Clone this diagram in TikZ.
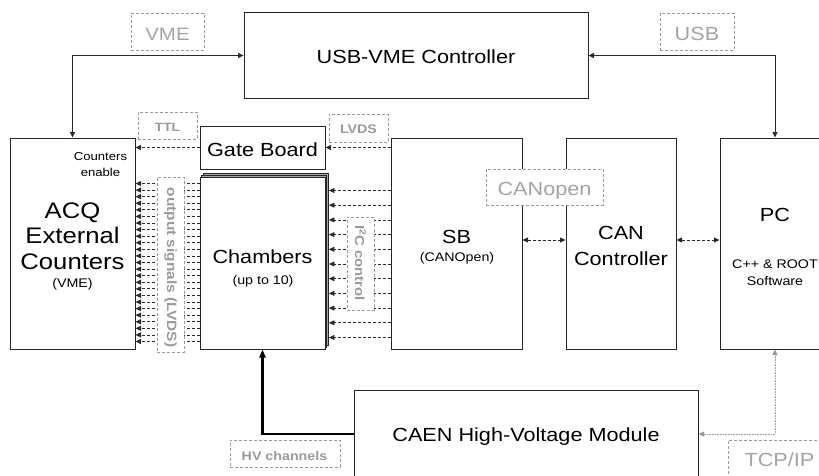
\documentclass[tikz,border=0pt]{standalone}
\usepackage{fontspec}
\setmainfont{Liberation Sans}[FakeStretch=1.14]
\usetikzlibrary{arrows.meta,calc}
\definecolor{lbl}{HTML}{9A9A9A}
\definecolor{lnk}{HTML}{2A2A2A}
\newcommand{\fsz}[1]{\fontsize{#1}{#1}\selectfont}
\begin{document}
\begin{tikzpicture}[x=1pt,y=-1pt,
  box/.style={draw=black!85,line width=1pt,fill=white,inner sep=0pt},
  shadowbox/.style={draw=black!85,line width=0.8pt,fill=gray!70,inner sep=0pt},
  lblbox/.style={draw=lbl,line width=0.9pt,dash pattern=on 3pt off 2pt,fill=white,inner sep=0pt},
  tip/.tip={Triangle[length=5.5pt,width=5pt]},
  bigtip/.tip={Triangle[length=8pt,width=6pt]},
  link/.style={draw=lnk,line width=0.9pt},
  dlink/.style={draw=lnk,line width=0.8pt,dash pattern=on 3pt off 2pt},
  dotlink/.style={draw=gray!80,line width=0.8pt,dash pattern=on 0.8pt off 0.8pt},
  hvlink/.style={draw=black,line width=2.2pt},
  main/.style={font=\fsz{19},anchor=base,inner sep=0pt},
  small/.style={font=\fsz{12.5},anchor=base,inner sep=0pt},
  glabel/.style={font=\fsz{19},text=lbl!90,anchor=base,inner sep=0pt},
  blabel/.style={font=\bfseries\fsz{12.5},text=lbl,anchor=base,inner sep=0pt},
  rlabel/.style={font=\bfseries\fsz{13.5},text=lbl,rotate=-90,inner sep=0pt}
]
\path[use as bounding box] (0,0) rectangle (819,475);

% main boxes
\node[box,minimum width=344pt,minimum height=86pt] (usbvme) at (416,55.5) {};
\node[box,minimum width=125pt,minimum height=211pt] (acq) at (72.5,243.5) {};
\node[box,minimum width=125pt,minimum height=43pt] (gate) at (262.5,147.5) {};
\node[shadowbox,minimum width=125pt,minimum height=172pt] (chb2) at (266,259.5) {};
\node[shadowbox,minimum width=125pt,minimum height=172pt] (chb1) at (264.25,261.25) {};
\node[box,minimum width=125pt,minimum height=172pt] (chambers) at (262.5,263) {};
\node[box,minimum width=131pt,minimum height=211pt] (sb) at (456.5,243.5) {};
\node[box,minimum width=110pt,minimum height=211pt] (can) at (621,243.5) {};
\node[box,minimum width=110pt,minimum height=211pt] (pc) at (775,243.5) {};
\node[box,minimum width=344pt,minimum height=130pt] (hv) at (526,455) {};

% texts in main boxes
\node[main] (t-usbvme) at (416,63.3) {USB-VME Controller};
\node[main,font=\fsz{22.5}] (t-acq1) at (72.5,218) {ACQ};
\node[main,font=\fsz{22.5}] (t-acq2) at (72.5,243) {External};
\node[main,font=\fsz{22.5}] (t-acq3) at (72.5,269) {Counters};
\node[small] (t-acq4) at (72.5,287.5) {(VME)};
\node[small,font=\fsz{11.5}] (t-ce1) at (100.5,160) {Counters};
\node[small,font=\fsz{11.5}] (t-ce2) at (100.5,176.5) {enable};
\node[main] (t-gate) at (262.5,156) {Gate Board};
\node[main] (t-ch1) at (262.5,263) {Chambers};
\node[small] (t-ch2) at (263,284) {(up to 10)};
\node[main] (t-sb1) at (456.5,243) {SB};
\node[small] (t-sb2) at (457,261) {(CANOpen)};
\node[main] (t-can1) at (621,239) {CAN};
\node[main] (t-can2) at (621,265.5) {Controller};
\node[main] (t-pc1) at (775,221.5) {PC};
\node[small] (t-pc2) at (775,268) {C++ \& ROOT};
\node[small] (t-pc3) at (775,285) {Software};
\node[main] (t-hv) at (526,441.7) {CAEN High-Voltage Module};

% connectors
\draw[link,{tip}-{tip}] (acq.north) |- (usbvme.west);
\draw[link,{tip}-{tip}] (pc.north) |- (usbvme.east);
\draw[dlink,-{tip}] (gate.west) -- (gate.west -| acq.east);
\draw[dlink,-{tip}] (gate.east -| sb.west) -- (gate.east);
\foreach \i in {0,...,24}{
  \coordinate (o\i) at ($(chambers.north west)+(0,{7+\i*6.583})$);
  \draw[dlink,-{tip}] (o\i) -- (o\i -| acq.east);
}
\foreach \i in {0,...,10}{
  \coordinate (s\i) at ($(sb.north west)+(0,{53+\i*14.7})$);
  \draw[dlink,-{tip}] (s\i) -- (s\i -| chb2.east);
}
\draw[dlink,{tip}-{tip}] ([yshift=3.5pt]sb.east) -- ([yshift=3.5pt]can.west);
\draw[dlink,{tip}-{tip}] ([yshift=3.5pt]can.east) -- ([yshift=3.5pt]pc.west);
\draw[hvlink,-{bigtip}] ([yshift=21pt]hv.west) -| (chambers.south);
\draw[dotlink,{tip}-{tip}] ([yshift=21pt]hv.east) -| (pc.south);

% label boxes
\node[lblbox,minimum width=73pt,minimum height=37pt] (l-vme) at (167.5,31.5) {};
\node[glabel,font=\fsz{18}] (lt-vme) at (167.5,40) {VME};
\node[lblbox,minimum width=74pt,minimum height=37pt] (l-usb) at (697,31.5) {};
\node[glabel] (lt-usb) at (697,40) {USB};
\node[lblbox,minimum width=59pt,minimum height=27pt] (l-ttl) at (167.5,125.5) {};
\node[blabel,font=\bfseries\fsz{12}] (lt-ttl) at (167.5,131.7) {TTL};
\node[lblbox,minimum width=59pt,minimum height=28pt] (l-lvds) at (358.5,128) {};
\node[blabel] (lt-lvds) at (358.5,133) {LVDS};
\node[lblbox,minimum width=117pt,minimum height=36pt] (l-can) at (544.5,187) {};
\node[glabel] (lt-can) at (544.5,195.7) {CANopen};
\node[lblbox,minimum width=110pt,minimum height=27pt] (l-hv) at (285,453.5) {};
\node[blabel] (lt-hv) at (284.5,460.7) {HV channels};
\node[lblbox,minimum width=112pt,minimum height=50pt] (l-tcp) at (784,465) {};
\node[glabel] (lt-tcp) at (779.5,466.7) {TCP/IP};
\node[lblbox,minimum width=27pt,minimum height=175pt] (l-out) at (170.5,264.5) {};
\node[rlabel] (lt-out) at (170.5,267.5) {output signals (LVDS)};
\node[lblbox,minimum width=27pt,minimum height=93pt] (l-i2c) at (360.5,263.5) {};
\node[rlabel,font=\bfseries\fsz{13}] (lt-i2c) at (360.5,263) {I\textsuperscript{2}C control};
\end{tikzpicture}
\end{document}
